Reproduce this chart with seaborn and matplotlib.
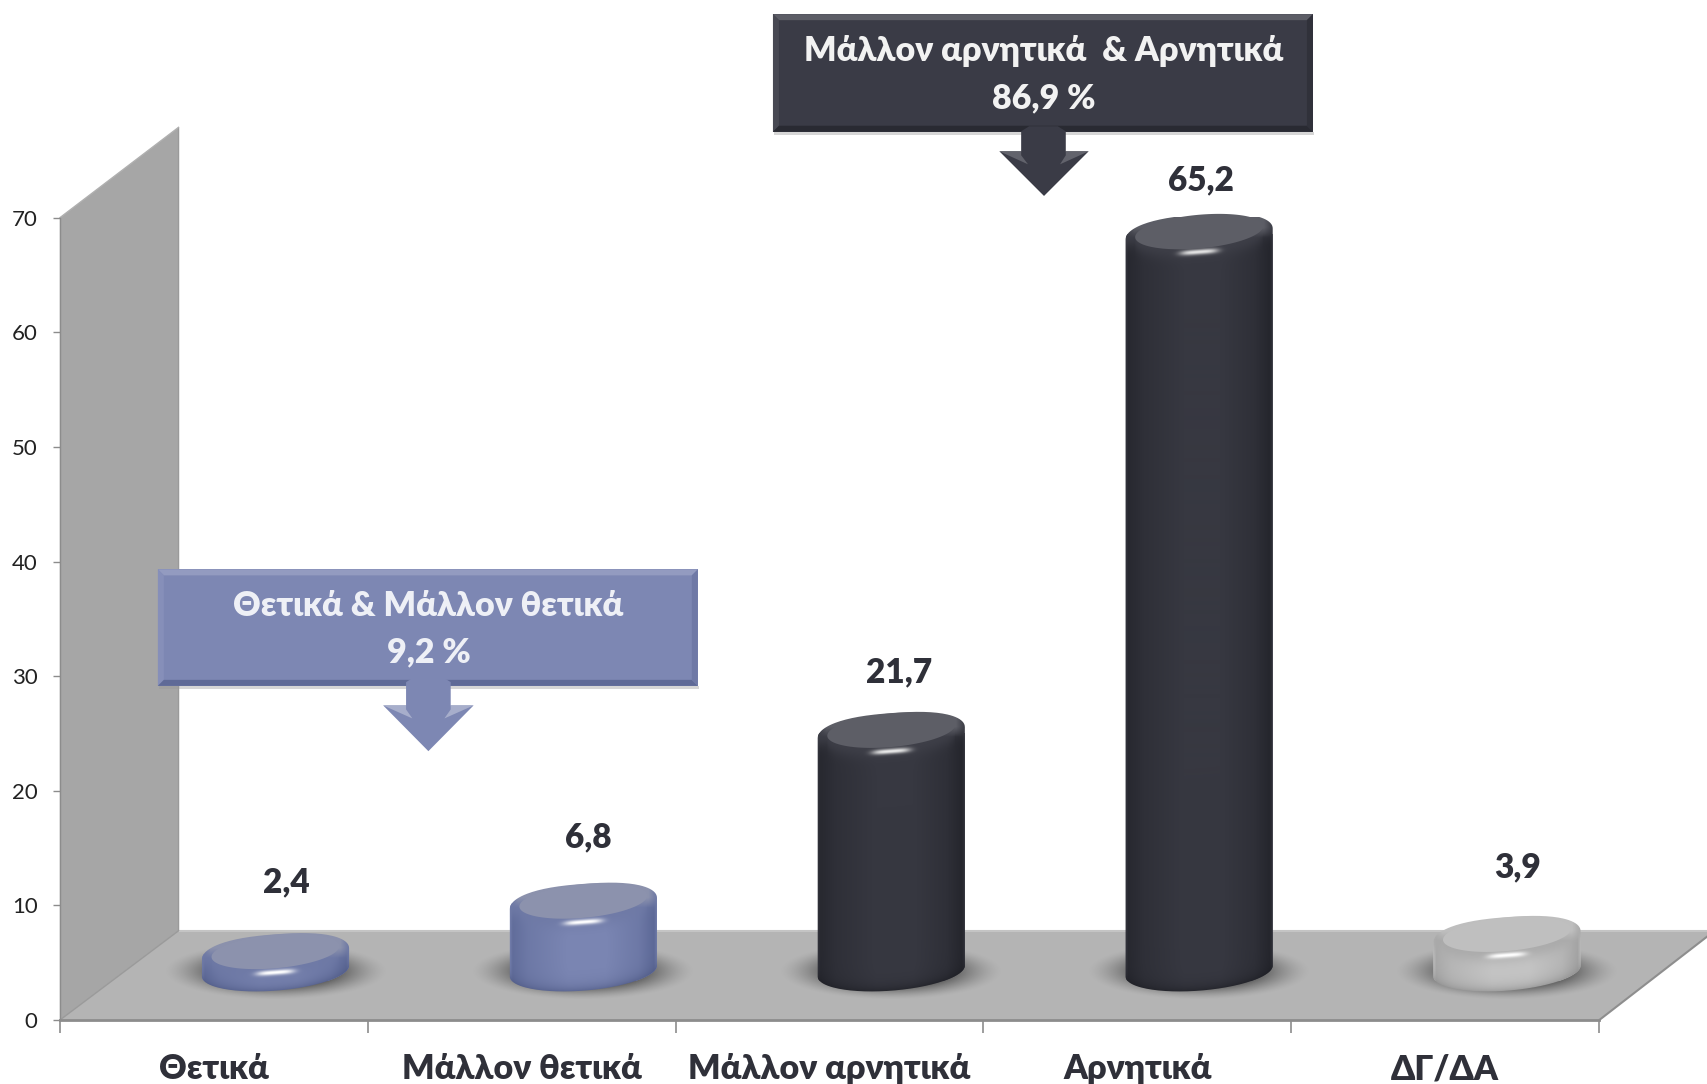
import numpy as np
import seaborn as sns
import matplotlib
matplotlib.use("Agg")
import matplotlib.pyplot as plt
from matplotlib.patches import Polygon, PathPatch
from matplotlib.path import Path
from matplotlib.transforms import Affine2D
from matplotlib.colors import to_rgb

categories = ["Θετικά", "Μάλλον θετικά", "Μάλλον αρνητικά", "Αρνητικά", "ΔΓ/ΔΑ"]
values = [2.4, 6.8, 21.7, 65.2, 3.9]
value_labels = ["2,4", "6,8", "21,7", "65,2", "3,9"]
y_ticks = [0, 10, 20, 30, 40, 50, 60, 70]
callout_dark = ["Μάλλον αρνητικά  & Αρνητικά", "86,9 %"]
callout_blue = ["Θετικά & Μάλλον θετικά", "9,2 %"]

W, H = 1707, 1084
S = 1707 / 1568
sns.set_theme(style="white")
plt.rcParams["font.family"] = ["Lato", "Open Sans", "DejaVu Sans"]
HEAVY = 800

BLUE = "#7b86b3"
DARK = "#34353f"
GREY = "#bdbdbd"
bar_colors = [BLUE, BLUE, DARK, DARK, GREY]
styles = {
    BLUE: dict(edge="#5d6997", mid="#7b86b3", face="#8c92ad", bevel="#6f7aa6", low="#4f5a85", hl="#ffffff"),
    DARK: dict(edge="#25262d", mid="#373841", face="#5d5e66", bevel="#3f4049", low="#1e1f25", hl="#e8e8e8"),
    GREY: dict(edge="#a4a4a4", mid="#c6c6c6", face="#bfbfbf", bevel="#a9a9a9", low="#8d8d8d", hl="#ffffff"),
}
label_dx = [12, 6.3, 8.5, 3.8, 11.8]
label_dy = [101, 96, 91, 85, 99]

fig = plt.figure(figsize=(W / 100, H / 100), dpi=100, facecolor="white")
px = Affine2D().scale(1, -1).translate(0, H)


def pixel_axes(z):
    a = fig.add_axes([0, 0, 1, 1], zorder=z)
    a.set_xlim(0, W)
    a.set_ylim(H, 0)
    a.axis("off")
    a.patch.set_alpha(0)
    return a


back = pixel_axes(0)
front = pixel_axes(2)


def sp(points):
    return [(x * S, y * S) for x, y in points]


# wall and floor
back.add_patch(Polygon(sp([(55, 200), (164, 117), (164, 855), (55, 937)]), fc="#a6a6a6", ec="none"))
back.add_patch(Polygon(sp([(55, 937), (164, 855), (1575, 855), (1469, 937)]), fc="#b4b4b4", ec="none"))
back.plot(*zip(*sp([(164, 855), (1575, 855)])), color="#c4c4c4", lw=1.5)
back.plot(*zip(*sp([(55, 937), (164, 855), (164, 117)])), color="#9a9a9a", lw=1)
back.plot(*zip(*sp([(55, 200), (164, 117)])), color="#b0b0b0", lw=1)
back.plot(*zip(*sp([(1469, 937), (1575, 855)])), color="#8e8e8e", lw=1.5)
back.set_xlim(0, W)
back.set_ylim(H, 0)

# main data axes
left, right, bot, top = 55 * S, 1469 * S, 937 * S, 200 * S
ax = fig.add_axes([left / W, 1 - bot / H, (right - left) / W, (bot - top) / H], zorder=1)
ax.patch.set_alpha(0)
sns.barplot(x=categories, y=values, hue=categories, palette=bar_colors, width=0.478,
            saturation=1, legend=False, ax=ax, linewidth=0, dodge=False)
ax.set_xlim(-0.5, 4.5)
ax.set_ylim(0, 70)
sns.despine(ax=ax, top=True, right=True)
for s in ("left", "bottom"):
    ax.spines[s].set_color("#8c8c8c")
ax.spines["left"].set_linewidth(1.0)
ax.spines["bottom"].set_linewidth(2.0)
ax.set_yticks(y_ticks)
ax.set_yticklabels([str(v) for v in y_ticks], fontsize=16, color="#222222")
ax.tick_params(axis="y", left=True, length=5, width=1, color="#8c8c8c", pad=11)
ax.set_xticks(np.arange(-0.5, 5, 1))
ax.set_xticklabels([])
ax.set_xticks(range(5), categories, minor=True)
ax.tick_params(axis="x", which="major", bottom=True, length=9, width=1.2, color="#8c8c8c")
ax.tick_params(axis="x", which="minor", bottom=False, length=0, pad=24)
for t in ax.get_xticklabels(minor=True):
    t.set_fontsize(24.5)
    t.set_fontweight(HEAVY)
    t.set_color("#2f3039")
ax.set_xlabel("")
ax.set_ylabel("")

SHIFT_X, SHIFT_Y = 56.7 * S, 35.5 * S
BASE_LIFT = 9.5 * S
B, SH = 19.6, 5.5


def spow(v, p):
    return np.sign(v) * np.abs(v) ** p


bars = sorted([b for b in ax.patches if b.get_width() > 0], key=lambda b: b.get_x())
for i, (bar, color) in enumerate(zip(bars, bar_colors)):
    st = styles[color]
    (xa, ya), (xb, yb) = ax.transData.transform(
        [(bar.get_x(), 0), (bar.get_x() + bar.get_width(), bar.get_height())])
    x0, x1 = xa + SHIFT_X, xb + SHIFT_X
    ybot, ytop = H - ya - SHIFT_Y - BASE_LIFT, H - yb - SHIFT_Y
    xc, a = (x0 + x1) / 2, (x1 - x0) / 2

    # soft shadow on the floor
    gx, gy = np.meshgrid(np.linspace(-1, 1, 220), np.linspace(-1, 1, 90))
    r = np.hypot(gx, gy)
    shadow = np.zeros(r.shape + (4,))
    shadow[..., :3] = to_rgb("#474747")
    shadow[..., 3] = np.clip((1 - r) / 0.5, 0, 1) ** 1.5 * 0.95
    back.imshow(shadow, extent=(xc - 112, xc + 112, ybot + 29, ybot - 29), aspect="auto", zorder=3)

    # silhouette
    tt = np.linspace(np.pi, 2 * np.pi, 90)
    cp = spow(np.cos(tt), 0.8)
    tx = xc + a * cp
    ty = ytop + B * spow(np.sin(tt), 0.95) - SH * cp
    bt = np.linspace(0, np.pi, 90)
    bx = xc + a * np.cos(bt)
    by = ybot + B * np.sin(bt) - SH * np.cos(bt)
    outline = np.vstack([np.c_[tx, ty], np.c_[bx, by], [[tx[0], ty[0]]]])
    clip = PathPatch(Path(outline), transform=px, fc="none", ec="none")
    ax.add_patch(clip)
    bar.set_transform(ax.transData + Affine2D().translate(SHIFT_X, SHIFT_Y))
    bar.set_clip_box(None)
    bar.set_clip_path(clip)

    # shaded body
    yt, yb2 = ytop - 30, ybot + 30
    xs = np.arange(np.floor(x0) - 1, np.ceil(x1) + 2)
    ys = np.arange(np.floor(yt), np.ceil(yb2) + 1)
    gxx, gyy = np.meshgrid(xs + 0.5, ys + 0.5)
    t = np.clip((gxx - xc) / a, -1, 1)
    w = np.interp(t, [-1, -0.96, -0.75, -0.2, 0.3, 0.75, 0.96, 1],
                  [0.75, 0.15, 0.55, 1.0, 1.0, 0.55, 0.0, 0.6])[..., None]
    edge, mid = np.array(to_rgb(st["edge"])), np.array(to_rgb(st["mid"]))
    img = edge + (mid - edge) * w
    # bevel under the top face
    fa = 0.87
    fcy = ytop - 2.5
    fb = 0.86 * B
    tf = np.clip(t / fa, -1, 1)
    ylow = fcy + fb * np.sqrt(1 - tf ** 2) - SH * t
    d = gyy - ylow
    bev = np.exp(-(np.clip(d, 0, None) / 11) ** 2)[..., None] * 0.85
    img = img * (1 - bev) + np.array(to_rgb(st["bevel"])) * bev
    # upper shoulder fades into the top face
    u = np.clip((ytop + 4 - gyy) / 10, 0, 1)[..., None] * np.clip((1 - np.abs(t)) / 0.12, 0, 1)[..., None]
    img = img * (1 - u) + np.array(to_rgb(st["face"])) * u
    # darker lower rim
    ylo = ybot + B * np.sqrt(np.clip(1 - t ** 2, 0, 1)) - SH * t
    d2 = np.clip(ylo - gyy, 0, None)
    dk = np.exp(-d2 / 6)[..., None] * 0.7
    img = img * (1 - dk) + np.array(to_rgb(st["low"])) * dk
    # specular highlight
    yh = ytop + 18.5 - SH * t
    spec = np.exp(-((gxx - xc) / 19) ** 4 - ((gyy - yh) / 2.6) ** 2)[..., None]
    img = img * (1 - spec) + np.array(to_rgb(st["hl"])) * spec
    im = ax.imshow(img, extent=(xs[0], xs[-1] + 1, ys[-1] + 1, ys[0]), transform=px,
                   aspect="auto", zorder=3, interpolation="bilinear")
    im.set_clip_box(None)
    im.set_clip_path(clip)

    # top face
    ft = np.linspace(0, 2 * np.pi, 120)
    fx = xc + fa * a * np.cos(ft)
    fy = fcy + fb * np.sin(ft) - SH * np.cos(ft)
    ax.add_patch(Polygon(np.c_[fx, fy], transform=px, fc=st["face"], ec="none", zorder=4, clip_on=False))

    # value label, placed from the bar's own value
    ax.annotate(value_labels[i], xy=(bar.get_x() + bar.get_width() / 2, bar.get_height()),
                xytext=((SHIFT_X + (label_dx[i] - 1.7) * S) * 0.72,
                        (label_dy[i] * S) * 0.72),
                textcoords="offset points", ha="center", va="center", fontsize=24,
                fontweight=HEAVY, color="#2f3039", annotation_clip=False, zorder=6)

ax.set_xlim(-0.5, 4.5)
ax.set_ylim(0, 70)


def callout(box, stem, head, fill, top_c, left_c, bottom_c, right_c, tri_c, lines, tcolor):
    x0, y0, x1, y1 = [v * S for v in box]
    bw = 6
    front.add_patch(Polygon([(x0 + 1, y1), (x1 + 1, y1), (x1 + 1, y1 + 3), (x0 + 1, y1 + 3)],
                            fc="#999999", ec="none", alpha=0.4))
    front.add_patch(Polygon([(x0, y0), (x1, y0), (x1, y1), (x0, y1)], fc=fill, ec="none"))
    front.add_patch(Polygon([(x0, y0), (x1, y0), (x1 - bw, y0 + bw), (x0 + bw, y0 + bw)], fc=top_c, ec="none"))
    front.add_patch(Polygon([(x0, y0), (x0 + bw, y0 + bw), (x0 + bw, y1 - bw), (x0, y1)], fc=left_c, ec="none"))
    front.add_patch(Polygon([(x0, y1), (x0 + bw, y1 - bw), (x1 - bw, y1 - bw), (x1, y1)], fc=bottom_c, ec="none"))
    front.add_patch(Polygon([(x1, y0), (x1 - bw, y0 + bw), (x1 - bw, y1 - bw), (x1, y1)], fc=right_c, ec="none"))
    sx0, sx1, sy0, sy1 = [v * S for v in stem]
    hx0, hx1, hy, tip = [v * S for v in head]
    cx = (hx0 + hx1) / 2
    front.add_patch(Polygon([(sx0, sy0 + 5), (sx0 + 8, sy0), (sx1 - 8, sy0), (sx1, sy0 + 5), (sx1, sy1), (sx0, sy1)],
                            fc=fill, ec="none"))
    front.add_patch(Polygon([(hx0, hy), (hx1, hy), (cx, tip)], fc=fill, ec="none"))
    front.add_patch(Polygon([(hx0, hy), (sx0, hy), (sx0, hy + 4), (cx - 16, hy + 13)], fc=tri_c, ec="none"))
    front.add_patch(Polygon([(hx1, hy), (sx1, hy), (sx1, hy + 4), (cx + 16, hy + 13)], fc=tri_c, ec="none"))
    ty0 = (y0 + y1) / 2
    front.text(cx, ty0 - 22, lines[0], ha="center", va="center", fontsize=24.5, fontweight=HEAVY, color=tcolor)
    front.text(cx, ty0 + 25, lines[1], ha="center", va="center", fontsize=24.5, fontweight=HEAVY, color=tcolor)


callout((710, 13, 1206, 121), (938, 979, 116, 140), (918, 1000, 139, 180),
        "#3a3b46", "#5c5d66", "#484953", "#292a32", "#30313a", "#62636c", callout_dark, "#f2f2f2")
callout((145, 523, 641, 630), (373, 414, 622, 649), (352, 435, 648, 690),
        "#7d87b3", "#939bc0", "#868fb9", "#5f6a97", "#6f79a6", "#a7aecb", callout_blue, "#eef0f6")

fig.savefig("out.png", dpi=100)
